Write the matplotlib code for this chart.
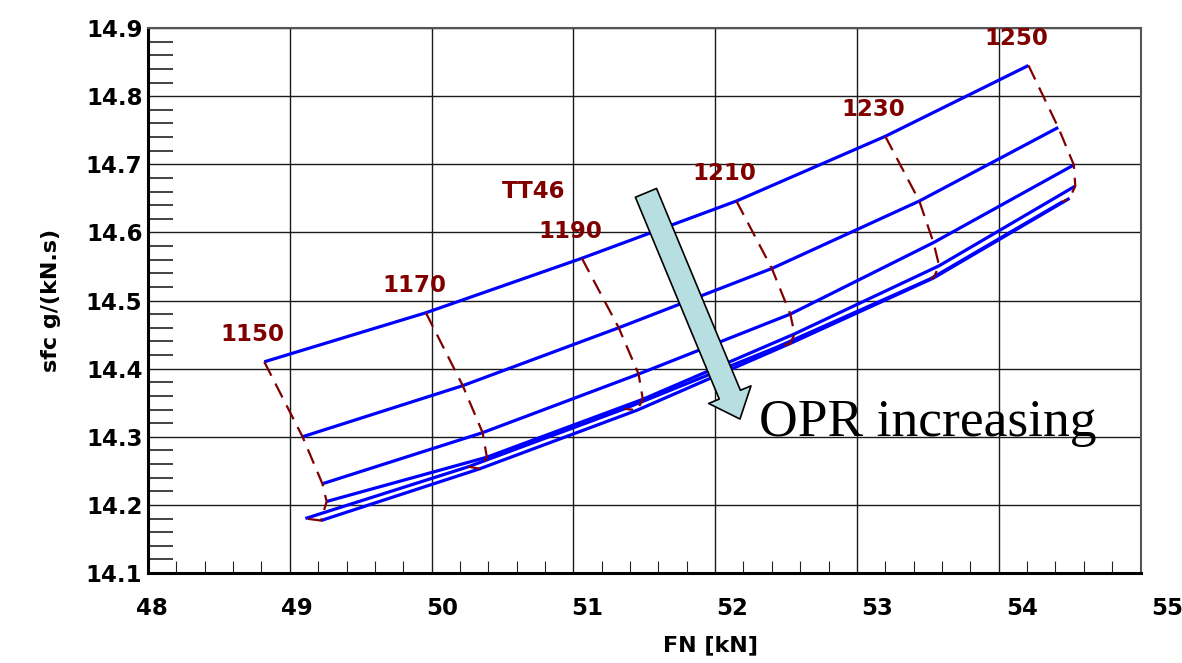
#!/usr/bin/env python3
# -*- coding: utf-8 -*-

import matplotlib
matplotlib.use("Agg")
import matplotlib.pyplot as plt
from matplotlib.ticker import MultipleLocator
from matplotlib.transforms import ScaledTranslation

# ==================== ------ DATA ------- ====================
tt_labels = ["1150", "1170", "1190", "1210", "1230", "1250"]

# one line per OPR value, points ordered by turbine temperature (TT46)
fn_opr1 = [48.82, 49.96, 51.06, 52.15, 53.20, 54.21]
sfc_opr1 = [14.410, 14.482, 14.562, 14.646, 14.741, 14.845]
fn_opr2 = [49.09, 50.22, 51.32, 52.40, 53.44, 54.42]
sfc_opr2 = [14.300, 14.375, 14.460, 14.547, 14.646, 14.754]
fn_opr3 = [49.23, 50.36, 51.46, 52.53, 53.54, 54.53]
sfc_opr3 = [14.231, 14.306, 14.392, 14.480, 14.585, 14.699]
fn_opr4 = [49.26, 50.39, 51.49, 52.56, 53.58, 54.54]
sfc_opr4 = [14.205, 14.270, 14.355, 14.451, 14.551, 14.668]
fn_opr5 = [49.22, 50.34, 51.45, 52.53, 53.54, 54.50]
sfc_opr5 = [14.177, 14.253, 14.339, 14.437, 14.533, 14.650]
fn_opr6 = [49.11, 50.26, 51.36, 52.43, 53.52, 54.45]
sfc_opr6 = [14.180, 14.256, 14.341, 14.431, 14.532, 14.645]

x_ticks = [48, 49, 50, 51, 52, 53, 54, 55]
y_ticks = [14.1, 14.2, 14.3, 14.4, 14.5, 14.6, 14.7, 14.8, 14.9]

fn_lines = [fn_opr1, fn_opr2, fn_opr3, fn_opr4, fn_opr5, fn_opr6]
sfc_lines = [sfc_opr1, sfc_opr2, sfc_opr3, sfc_opr4, sfc_opr5, sfc_opr6]

# ==================== ------ FIGURE ------- ====================
DPI = 100
fig = plt.figure(figsize=(11.82, 6.63), dpi=DPI)
ax = fig.add_axes([148 / 1182, 1 - 573 / 663, 992.5 / 1182, 545 / 663])

blue = "#0000ff"
dark_red = "#800000"

# constant OPR lines
for fn, sfc in zip(fn_lines, sfc_lines):
    ax.plot(fn, sfc, color=blue, lw=2.3, zorder=3, solid_capstyle="butt")

# constant TT lines (dashed)
for j in range(len(tt_labels)):
    ax.plot([f[j] for f in fn_lines], [s[j] for s in sfc_lines],
            color=dark_red, lw=1.6, dashes=(7, 4), zorder=4)

# TT labels sit above-left of the top line points
for j, lab in enumerate(tt_labels):
    ax.annotate(lab, xy=(fn_opr1[j], sfc_opr1[j]), xytext=(-8.6, 19.5),
                textcoords="offset points", ha="center", va="center",
                color=dark_red, fontsize=16.5, fontweight="bold", zorder=6)
ax.annotate("TT46", xy=(fn_opr1[2], sfc_opr1[2]), xytext=(-35, 48),
            textcoords="offset points", ha="center", va="center",
            color=dark_red, fontsize=16.5, fontweight="bold", zorder=6)

# arrow + text
ax.annotate("", xy=(52.175, 14.326), xytext=(51.512, 14.658),
            arrowprops=dict(arrowstyle="simple,head_width=3.3,head_length=1.9,tail_width=1.65",
                            mutation_scale=10, fc="#b7dfe2", ec="black", lw=1.2,
                            shrinkA=0, shrinkB=0), zorder=7)
ax.text(52.31, 14.32, "OPR increasing", family="Liberation Serif", fontsize=38.5,
        ha="left", va="center", color="black", zorder=7)

# ==================== ------ AXES ------- ====================
ax.set_xlim(48, 55)
ax.set_ylim(14.1, 14.9)
ax.set_xticks(x_ticks)
ax.set_yticks(y_ticks)
ax.set_xticklabels([str(v) for v in x_ticks])
ax.set_yticklabels([f"{v:.1f}" for v in y_ticks])
ax.xaxis.set_minor_locator(MultipleLocator(0.2))
ax.yaxis.set_minor_locator(MultipleLocator(0.02))

ax.grid(which="major", color="#1a1a1a", lw=1.0, zorder=1)
ax.tick_params(which="major", length=0)
ax.tick_params(axis="y", which="major", pad=4, labelsize=16.5)
ax.tick_params(axis="x", which="major", pad=17, labelsize=16.5)
ax.tick_params(axis="x", which="minor", direction="in", length=8.5, width=0.8, color="#222222")
ax.tick_params(axis="y", which="minor", direction="in", length=18, width=1.2, color="#222222")
for lab in ax.get_xticklabels() + ax.get_yticklabels():
    lab.set_fontweight("bold")

# x labels drift slightly to the right, as in the source image
for i, lab in enumerate(ax.get_xticklabels()):
    dx = (4 + 3.2 * i) / DPI
    lab.set_transform(lab.get_transform() + ScaledTranslation(dx, 0, fig.dpi_scale_trans))

ax.spines["left"].set_linewidth(2.2)
ax.spines["bottom"].set_linewidth(2.2)
ax.spines["top"].set_color("#555555")
ax.spines["right"].set_color("#555555")
ax.spines["top"].set_linewidth(1.5)
ax.spines["right"].set_linewidth(1.5)

ax.set_xlabel("FN [kN]", fontsize=16, fontweight="bold")
ax.set_ylabel("sfc g/(kN.s)", fontsize=16, fontweight="bold")
ax.xaxis.set_label_coords(0.567, -0.115)
ax.yaxis.set_label_coords(-0.088, 0.5)

fig.savefig("out.png", dpi=DPI)
plt.close(fig)
